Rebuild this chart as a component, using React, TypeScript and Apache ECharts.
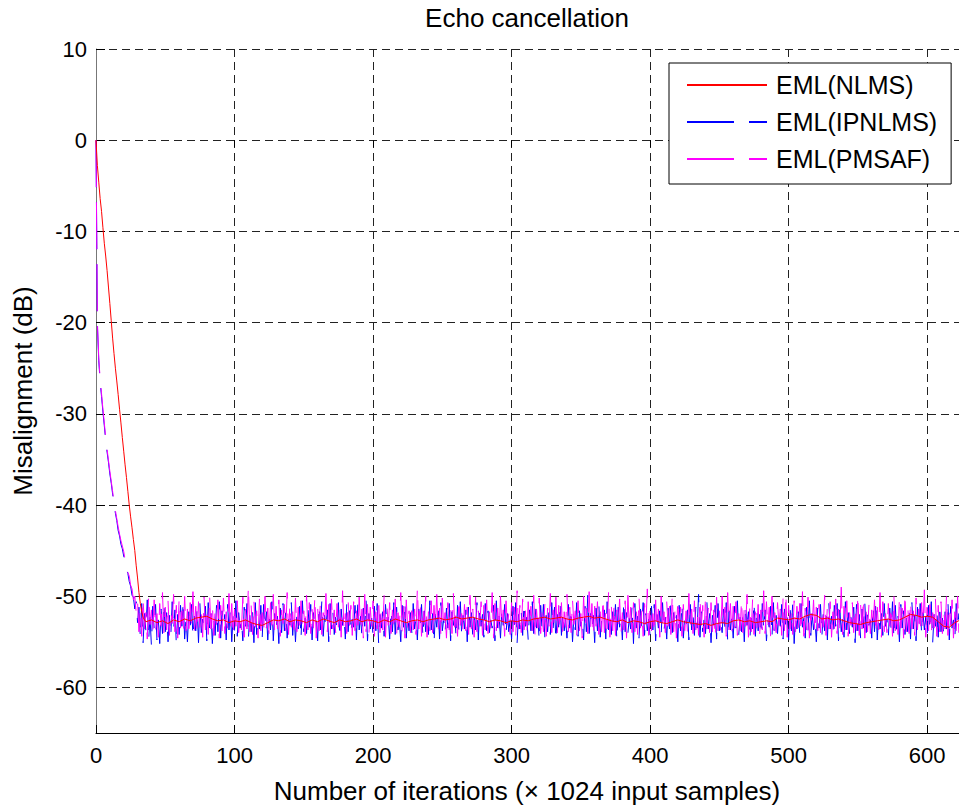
import React, { useEffect, useRef } from 'react';
import * as echarts from 'echarts';

const FONT = "'Liberation Sans', Arial, Helvetica, sans-serif";

const titleText = 'Echo cancellation';
const xName = 'Number of iterations (\u00d7 1024 input samples)';
const yName = 'Misalignment (dB)';
const legendNames = ['EML(NLMS)', 'EML(IPNLMS)', 'EML(PMSAF)'];

const xTicks = [0, 100, 200, 300, 400, 500, 600];
const yTicks = [-60, -50, -40, -30, -20, -10, 0, 10];

// NLMS: x = 0..35 step 1
const redDescent = [
  0, -2.8, -4.6, -6.4, -7.8, -9.6, -11.3, -12.7, -14.3, -16.1,
  -17.9, -19.8, -21.7, -23.4, -25.0, -26.4, -27.9, -29.5, -31.0, -32.6,
  -34.1, -35.6, -37.0, -38.5, -40.0, -41.3, -42.5, -43.8, -45.0, -46.6,
  -48.0, -49.6, -50.8, -51.7, -52.3, -52.6,
];
// NLMS: x = 36, 40, 44, ... 624
const redPlateau = [
  -52.8, -52.6, -52.9, -52.7, -53.0, -52.6, -52.8, -52.5, -52.7, -52.4,
  -52.3, -52.2, -52.5, -52.7, -52.6, -52.9, -52.7, -52.8, -52.6, -52.9,
  -53.1, -53.2, -52.9, -52.6, -52.7, -52.5, -52.8, -52.6, -52.7, -52.9,
  -52.6, -52.8, -52.5, -52.7, -52.9, -52.6, -52.8, -52.7, -52.5, -52.8,
  -52.6, -52.7, -52.9, -52.6, -52.8, -52.5, -52.7, -52.9, -52.7, -52.6,
  -52.8, -52.6, -52.5, -52.4, -52.6, -52.5, -52.3, -52.5, -52.4, -52.3,
  -52.5, -52.6, -52.8, -52.6, -52.7, -52.9, -52.7, -52.8, -52.6, -52.7,
  -52.5, -52.4, -52.3, -52.5, -52.4, -52.3, -52.5, -52.6, -52.4, -52.3,
  -52.2, -52.4, -52.3, -52.5, -52.7, -52.8, -52.6, -52.9, -52.7, -52.8,
  -53.0, -52.8, -52.7, -52.9, -53.0, -52.8, -52.6, -52.8, -52.9, -53.0,
  -53.1, -53.0, -53.2, -53.0, -52.9, -53.0, -52.7, -52.6, -52.8, -52.7,
  -52.9, -52.8, -52.7, -52.8, -52.4, -52.5, -52.6, -52.4, -52.5, -52.2,
  -52.0, -52.1, -52.5, -52.4, -52.6, -52.5, -52.7, -52.9, -53.0, -53.1,
  -52.9, -52.8, -52.7, -52.6, -52.5, -52.7, -52.6, -52.3, -52.0, -52.1,
  -52.3, -52.2, -52.3, -52.8, -53.3, -53.4, -52.9, -52.6,
];

// IPNLMS: x = 0..29 step 1
const blueDescent = [
  0, -20.3, -24.2, -26.5, -28.1, -29.8, -31.3, -32.9, -34.2, -35.3,
  -36.6, -37.6, -38.8, -39.9, -40.9, -41.7, -42.8, -43.4, -44.3, -44.8,
  -45.6, -46.2, -47.1, -47.5, -48.4, -48.9, -49.9, -50.1, -51.4, -50.6,
];
// IPNLMS: x = 30.. step 1
const bluePlateau = [
  -52.9, -51.2, -54.6, -50.8, -55.1, -51.9, -53.8, -50.4, -54.9, -52.3,
  -55.4, -51.1, -53.6, -50.9, -54.8, -52.6, -55.2, -51.4, -54.1, -50.7,
  -53.9, -51.8, -55.0, -52.1, -54.4, -50.6, -53.7, -51.5, -55.3, -52.0,
  -54.2, -51.0, -53.3, -50.5, -54.7, -52.4, -55.0, -51.7, -53.5, -50.9,
  -54.5, -52.2, -53.8, -51.3, -55.1, -50.8, -54.0, -52.5, -53.4, -51.1,
  -54.9, -50.7, -53.6, -51.9, -55.2, -52.3, -54.3, -51.0, -53.9, -50.6,
  -54.6, -51.6, -53.2, -52.0, -54.8, -50.9, -53.7, -51.4, -55.0, -52.2,
  -53.8, -50.5, -54.4, -51.8, -53.5, -52.6, -54.9, -51.2, -53.3, -50.8,
  -54.7, -52.1, -53.9, -51.5, -55.1, -50.7, -54.2, -52.4, -53.6, -51.0,
  -54.5, -50.9, -53.4, -51.7, -54.8, -52.3, -53.7, -50.6, -54.9, -51.9,
  -53.5, -52.2, -55.2, -51.3, -54.0, -50.8, -53.8, -51.6, -54.6, -52.5,
  -53.2, -50.7, -54.3, -51.9, -55.0, -52.0, -53.6, -51.1, -54.7, -50.5,
  -53.9, -52.4, -54.1, -51.2, -53.4, -50.9, -54.8, -51.8, -53.3, -52.6,
  -54.9, -51.0, -53.7, -50.6, -54.4, -52.1, -53.5, -51.5, -55.0, -50.8,
  -53.6, -51.7, -54.2, -52.3, -53.8, -50.7, -54.6, -51.4, -53.2, -52.0,
  -54.7, -50.9, -53.9, -51.6, -54.1, -52.5, -53.4, -51.0, -54.8, -50.6,
  -53.7, -52.2, -54.5, -51.3, -53.3, -50.5, -54.9, -51.9, -53.6, -52.4,
  -54.3, -51.1, -53.8, -50.8, -55.1, -52.0, -53.5, -51.7, -54.4, -50.9,
  -53.2, -52.3, -54.7, -51.5, -53.9, -50.7, -54.2, -51.2, -53.7, -52.6,
  -55.0, -51.0, -53.4, -50.6, -54.6, -52.1, -53.8, -51.8, -54.0, -50.8,
  -53.6, -52.4, -54.8, -51.4, -53.3, -50.9, -54.5, -51.6, -53.9, -52.2,
  -54.2, -50.5, -53.7, -51.9, -55.2, -52.0, -53.4, -51.1, -54.7, -50.7,
  -53.8, -52.5, -54.1, -51.3, -53.5, -50.8, -54.9, -51.7, -53.2, -52.3,
  -54.6, -51.0, -53.9, -50.6, -54.3, -52.1, -53.6, -51.5, -55.0, -50.9,
  -53.4, -51.8, -54.4, -52.4, -53.7, -50.7, -54.8, -51.2, -53.3, -52.0,
  -54.5, -50.8, -53.8, -51.6, -54.0, -52.6, -53.5, -51.0, -54.9, -50.5,
  -53.7, -52.2, -54.6, -51.4, -53.2, -50.9, -54.2, -51.9, -53.9, -52.5,
  -54.7, -51.1, -53.4, -50.7, -55.1, -52.0, -53.6, -51.7, -54.3, -50.8,
  -53.3, -52.3, -54.8, -51.5, -53.8, -50.6, -54.1, -51.3, -53.5, -52.4,
  -54.9, -51.0, -53.7, -50.9, -54.5, -52.1, -53.9, -51.8, -54.2, -50.7,
  -53.6, -51.2, -54.9, -52.0, -53.4, -50.6, -54.3, -51.8, -53.8, -52.5,
  -54.6, -50.9, -53.5, -51.4, -55.0, -52.2, -53.7, -50.7, -54.4, -51.6,
  -53.3, -52.4, -54.8, -51.1, -53.9, -49.9, -54.1, -51.9, -53.6, -52.1,
  -55.1, -51.3, -53.8, -50.8, -54.5, -52.6, -53.2, -51.5, -54.7, -50.6,
  -53.7, -52.0, -54.2, -51.7, -53.5, -50.9, -54.9, -51.2, -53.4, -52.3,
  -54.8, -50.5, -53.9, -51.8, -54.0, -52.4, -53.6, -51.0, -55.2, -50.8,
  -53.5, -52.2, -54.6, -51.4, -53.3, -50.7, -54.3, -51.9, -53.8, -52.5,
  -54.4, -51.1, -53.7, -50.9, -54.9, -52.0, -53.5, -51.6, -54.2, -50.7,
  -53.9, -52.3, -54.7, -51.3, -53.6, -50.6, -54.0, -51.8, -53.3, -52.1,
  -55.0, -51.0, -53.8, -50.8, -54.6, -52.4, -53.4, -51.5, -54.8, -50.9,
  -53.7, -52.0, -54.3, -51.2, -53.5, -49.8, -54.5, -51.7, -53.9, -52.6,
  -54.1, -50.6, -53.6, -51.9, -55.1, -52.1, -53.3, -51.0, -54.7, -50.8,
  -53.8, -52.5, -54.0, -51.4, -53.4, -50.7, -54.9, -51.6, -53.7, -52.2,
  -54.6, -51.1, -53.5, -50.5, -54.2, -52.3, -53.9, -51.8, -55.0, -50.9,
  -53.2, -51.7, -54.8, -52.4, -53.6, -50.6, -54.4, -51.3, -53.8, -52.0,
  -54.3, -50.8, -53.7, -51.5, -54.9, -52.6, -53.4, -51.1, -54.5, -50.7,
  -53.9, -52.1, -54.1, -51.8, -53.3, -50.9, -54.7, -51.4, -53.5, -52.3,
  -54.8, -51.0, -53.8, -50.6, -55.2, -52.2, -53.6, -51.7, -54.0, -50.8,
  -53.4, -52.4, -54.6, -51.2, -53.9, -50.5, -54.3, -51.9, -53.7, -52.5,
  -55.0, -51.3, -53.5, -50.9, -54.4, -52.0, -53.8, -51.6, -54.8, -50.7,
  -53.6, -52.2, -54.2, -51.0, -53.3, -50.8, -54.9, -51.5, -53.9, -52.4,
  -54.5, -50.6, -53.7, -51.8, -54.1, -52.3, -53.4, -51.2, -55.1, -50.9,
  -53.8, -52.0, -54.7, -51.4, -53.5, -50.7, -54.0, -51.7, -53.2, -52.6,
  -54.6, -51.1, -53.9, -50.5, -54.8, -52.1, -53.6, -51.9, -54.3, -50.8,
  -53.3, -52.5, -54.4, -51.3, -53.7, -50.6, -54.6, -51.0, -53.8, -52.2,
  -55.0, -50.9, -53.5, -51.6, -54.2, -52.4, -53.9, -51.4, -54.7, -50.7,
  -53.6, -52.1, -54.9, -51.2, -53.4, -50.8, -54.1, -51.8, -53.7, -52.3,
  -54.4, -51.0, -53.8, -50.6, -55.1, -52.0, -53.3, -51.5, -54.5, -50.9,
  -53.9, -52.4, -54.3, -51.7, -53.6, -50.5, -54.8, -51.1, -53.5, -52.6,
  -54.7, -50.8, -53.4, -51.9, -54.0, -52.2, -53.8, -51.3, -54.6, -50.7,
];

// PMSAF: x = 0..29 step 1
const magentaDescent = [
  0, -19.8, -23.9, -26.2, -27.8, -29.5, -31.0, -32.6, -33.9, -35.1,
  -36.3, -37.4, -38.5, -39.7, -40.6, -41.5, -42.4, -43.2, -43.9, -44.5,
  -45.1, -46.0, -46.6, -47.4, -47.8, -48.8, -49.2, -50.4, -50.0, -51.8,
];
// PMSAF: x = 30.. step 1
const magentaPlateau = [
  -50.6, -53.9, -51.3, -54.4, -50.2, -53.6, -51.8, -54.7, -49.9, -53.1,
  -51.5, -54.2, -50.4, -53.8, -51.9, -54.5, -50.8, -53.3, -49.6, -54.0,
  -51.2, -53.7, -50.5, -54.3, -51.7, -53.0, -49.8, -53.9, -51.0, -54.6,
  -50.3, -53.5, -51.6, -54.1, -50.0, -53.8, -51.4, -54.4, -50.7, -53.2,
  -49.5, -53.9, -51.1, -54.0, -50.6, -53.4, -51.8, -54.5, -50.1, -53.7,
  -51.3, -54.2, -49.9, -53.6, -50.9, -54.3, -51.5, -53.1, -50.4, -54.6,
  -51.0, -53.8, -50.2, -54.1, -51.7, -53.5, -49.7, -53.9, -50.8, -54.4,
  -51.4, -53.3, -50.5, -54.0, -51.9, -53.7, -50.1, -54.5, -51.2, -53.6,
  -48.9, -53.9, -51.0, -54.2, -50.6, -53.4, -51.6, -54.6, -50.3, -53.8,
  -51.8, -54.1, -50.0, -53.5, -51.3, -54.3, -50.7, -53.2, -49.8, -54.0,
  -51.1, -53.6, -50.4, -54.4, -51.5, -53.0, -50.9, -53.8, -49.6, -54.2,
  -50.8, -53.4, -51.7, -54.5, -50.2, -53.9, -51.2, -54.0, -50.5, -53.3,
  -51.6, -54.3, -49.9, -53.7, -50.7, -54.1, -51.4, -53.5, -50.0, -54.6,
  -51.3, -53.8, -50.6, -54.2, -51.8, -53.1, -49.7, -53.9, -50.9, -54.4,
  -50.3, -53.6, -51.5, -54.0, -50.8, -53.4, -51.1, -54.5, -49.4, -53.7,
  -51.9, -54.1, -50.4, -53.2, -51.0, -54.3, -50.6, -53.8, -51.6, -54.0,
  -50.1, -53.5, -51.4, -54.6, -49.8, -53.9, -50.9, -54.2, -51.2, -53.3,
  -50.5, -54.4, -51.7, -53.6, -50.2, -54.0, -51.3, -53.7, -49.9, -54.5,
  -51.0, -53.2, -50.7, -54.1, -51.5, -53.8, -50.3, -54.3, -51.8, -53.4,
  -49.6, -53.9, -51.1, -54.6, -50.4, -53.5, -51.6, -54.0, -50.8, -53.7,
  -51.4, -54.2, -49.1, -53.6, -50.6, -54.4, -51.2, -53.1, -50.0, -54.5,
  -51.7, -53.8, -50.5, -54.0, -51.0, -53.3, -49.8, -53.9, -51.3, -54.3,
  -50.2, -53.5, -51.8, -54.6, -50.7, -53.7, -51.1, -54.1, -49.7, -53.4,
  -51.5, -54.4, -50.3, -53.2, -51.9, -54.0, -50.9, -53.8, -51.2, -54.2,
  -49.9, -53.6, -51.4, -54.5, -50.1, -53.9, -51.6, -53.3, -50.6, -54.3,
  -51.0, -53.7, -50.4, -54.1, -51.7, -53.5, -49.6, -54.6, -50.8, -53.8,
  -51.3, -54.0, -50.0, -53.4, -51.5, -54.4, -50.5, -53.1, -51.9, -54.2,
  -50.7, -53.9, -51.2, -54.5, -49.4, -53.6, -51.0, -54.0, -50.3, -53.7,
  -51.6, -54.3, -50.6, -53.2, -51.1, -53.8, -49.9, -54.6, -51.4, -53.5,
  -50.2, -54.1, -51.8, -53.9, -50.9, -54.4, -51.3, -53.3, -49.7, -54.0,
  -51.5, -53.6, -50.1, -54.2, -51.0, -53.7, -50.7, -54.5, -51.7, -53.4,
  -49.8, -53.9, -51.2, -54.0, -50.4, -53.1, -51.6, -54.3, -50.5, -53.8,
  -51.9, -54.6, -50.0, -53.5, -51.3, -54.1, -49.5, -53.7, -50.8, -54.4,
  -51.1, -53.3, -50.6, -54.2, -51.7, -53.9, -50.2, -54.0, -51.4, -53.6,
  -49.6, -54.5, -51.0, -53.8, -50.9, -54.3, -51.5, -53.2, -50.3, -54.1,
  -51.8, -53.7, -50.5, -54.6, -49.9, -53.4, -51.2, -54.0, -50.7, -53.9,
  -51.3, -54.2, -50.1, -53.5, -51.6, -54.4, -50.8, -53.1, -49.2, -54.3,
  -51.0, -53.8, -51.9, -54.1, -50.4, -53.6, -51.4, -54.5, -50.0, -53.7,
  -51.7, -54.0, -50.6, -53.3, -51.1, -54.2, -49.8, -53.9, -51.5, -54.6,
  -50.3, -53.5, -51.2, -54.4, -50.9, -53.8, -51.6, -54.0, -49.7, -53.4,
  -51.4, -54.1, -50.5, -53.7, -51.8, -54.3, -50.2, -53.2, -51.0, -54.5,
  -49.9, -53.6, -51.3, -54.0, -50.7, -53.9, -51.5, -54.6, -50.1, -53.8,
  -51.6, -54.2, -50.0, -53.4, -51.2, -54.4, -49.6, -53.7, -50.8, -54.1,
  -51.1, -53.5, -50.6, -54.3, -51.9, -53.8, -50.4, -54.0, -51.3, -53.3,
  -49.8, -54.5, -51.0, -53.9, -50.3, -54.2, -51.7, -53.6, -50.9, -54.6,
  -51.5, -53.7, -49.4, -54.1, -50.6, -53.4, -51.2, -54.4, -50.0, -53.9,
  -51.8, -54.0, -50.7, -53.2, -51.4, -54.3, -50.2, -53.8, -49.7, -54.5,
  -51.0, -53.6, -51.6, -54.2, -50.5, -53.9, -51.1, -53.5, -50.8, -54.0,
  -49.5, -54.4, -51.3, -53.7, -50.1, -54.6, -51.9, -53.3, -50.4, -54.1,
  -51.2, -53.8, -50.9, -54.0, -51.5, -53.4, -49.9, -54.3, -51.0, -53.6,
  -50.6, -54.5, -51.7, -53.9, -50.3, -54.1, -51.4, -53.5, -49.0, -54.2,
  -51.1, -53.7, -50.5, -54.4, -51.8, -53.2, -50.7, -54.0, -51.3, -53.8,
  -49.8, -54.3, -51.0, -53.6, -50.2, -54.6, -51.6, -53.9, -50.9, -54.1,
  -51.5, -53.4, -50.4, -54.2, -51.2, -53.7, -49.6, -54.5, -50.6, -53.9,
  -51.9, -54.0, -50.8, -53.3, -51.1, -54.4, -50.0, -53.8, -51.7, -54.2,
  -50.1, -53.5, -51.3, -54.6, -49.7, -53.9, -51.0, -54.1, -50.5, -53.6,
  -51.6, -54.3, -50.2, -53.7, -51.4, -54.0, -50.7, -53.4, -49.3, -54.5,
  -51.2, -53.8, -50.9, -54.2, -51.8, -53.5, -50.3, -54.4, -51.0, -53.9,
  -50.6, -54.1, -51.5, -53.6, -49.9, -54.3, -51.1, -53.2, -50.4, -54.6,
  -51.7, -53.9, -50.0, -54.0, -51.3, -53.7, -50.8, -54.5, -51.4, -53.8,
];

const PLATEAU_START = 30;
const RED_PLATEAU_START = 36;
const RED_PLATEAU_STEP = 4;

function toPairs(descent: number[], plateau: number[], start: number, step: number) {
  const out: number[][] = descent.map((v, i) => [i, v]);
  plateau.forEach((v, i) => out.push([start + i * step, v]));
  return out;
}

export default function App() {
  const ref = useRef<HTMLDivElement>(null);
  useEffect(() => {
    if (!ref.current) return;
    const chart = echarts.init(ref.current, null, { renderer: 'svg' });
    const redData = toPairs(redDescent, redPlateau, RED_PLATEAU_START, RED_PLATEAU_STEP);
    const blueData = toPairs(blueDescent, bluePlateau, PLATEAU_START, 1);
    const magentaData = toPairs(magentaDescent, magentaPlateau, PLATEAU_START, 1);
    const gridDash = { type: [8, 5] as any, color: '#222', width: 1 };
    chart.setOption({
      animation: false,
      backgroundColor: '#fff',
      grid: { left: 96, right: 0, top: 49, bottom: 77, containLabel: false },
      graphic: [
        {
          type: 'text', x: 527, y: 18, silent: true,
          style: { text: titleText, fontSize: 26, fontFamily: FONT, fill: '#000', align: 'center', verticalAlign: 'middle' },
        },
        {
          type: 'text', x: 527, y: 791, silent: true,
          style: { text: xName, fontSize: 26, fontFamily: FONT, fill: '#000', align: 'center', verticalAlign: 'middle' },
        },
        {
          type: 'text', x: 23, y: 391, rotation: Math.PI / 2, silent: true,
          style: { text: yName, fontSize: 26, fontFamily: FONT, fill: '#000', align: 'center', verticalAlign: 'middle' },
        },
      ],
      legend: {
        orient: 'vertical',
        left: 669,
        top: 63,
        padding: [9, 14, 12, 17],
        itemGap: 11,
        itemWidth: 80,
        itemHeight: 20,
        backgroundColor: '#fff',
        borderColor: '#000',
        borderWidth: 1,
        selectedMode: false,
        itemStyle: { color: 'rgba(0,0,0,0)', borderWidth: 0, opacity: 0 },
        textStyle: { fontSize: 25, color: '#000', fontFamily: FONT, lineHeight: 26, padding: [0, 0, 0, 4] },
        data: legendNames,
      },
      xAxis: [
        {
          type: 'value', min: 0, max: 623, interval: 100, position: 'bottom',
          axisLine: { show: true, onZero: false, lineStyle: { color: '#000', width: 1 } },
          axisTick: { show: true, inside: true, length: 8, lineStyle: { color: '#000' }, customValues: xTicks },
          axisLabel: { show: true, fontSize: 22, color: '#000', fontFamily: FONT, margin: 11, customValues: xTicks },
          splitLine: { show: true, lineStyle: gridDash },
        },
        {
          type: 'value', min: 0, max: 623, interval: 100, position: 'top',
          axisLine: { show: false },
          axisTick: { show: true, inside: true, length: 7, lineStyle: { color: '#000' }, customValues: xTicks },
          axisLabel: { show: false },
          splitLine: { show: false },
        },
      ],
      yAxis: {
        type: 'value', min: -65, max: 10,
        axisLine: { show: true, onZero: false, lineStyle: { color: '#777', width: 1 } },
        axisTick: { show: true, inside: true, length: 9, lineStyle: { color: '#000' }, customValues: yTicks },
        axisLabel: { show: true, fontSize: 22, color: '#000', fontFamily: FONT, margin: 9, customValues: yTicks },
        splitLine: { show: true, lineStyle: gridDash },
      },
      series: [
        {
          name: 'EML(IPNLMS)', type: 'line', xAxisIndex: 0, data: blueData,
          symbol: 'none', showSymbol: false, silent: true,
          lineStyle: { color: '#0000ff', width: 1, type: [47, 15] },
          itemStyle: { color: '#0000ff' },
        },
        {
          name: 'EML(PMSAF)', type: 'line', xAxisIndex: 0, data: magentaData,
          symbol: 'none', showSymbol: false, silent: true,
          lineStyle: { color: '#ff00ff', width: 1, type: [47, 15] },
          itemStyle: { color: '#ff00ff' },
        },
        {
          name: 'EML(NLMS)', type: 'line', xAxisIndex: 0, data: redData,
          symbol: 'none', showSymbol: false, silent: true,
          lineStyle: { color: '#ff0000', width: 1, type: 'solid' },
          itemStyle: { color: '#ff0000' },
        },
      ],
    });
    return () => chart.dispose();
  }, []);
  return (
    <div
      ref={ref}
      style={{ position: 'fixed', left: 0, top: 0, width: 959, height: 810, background: '#fff' }}
    />
  );
}
